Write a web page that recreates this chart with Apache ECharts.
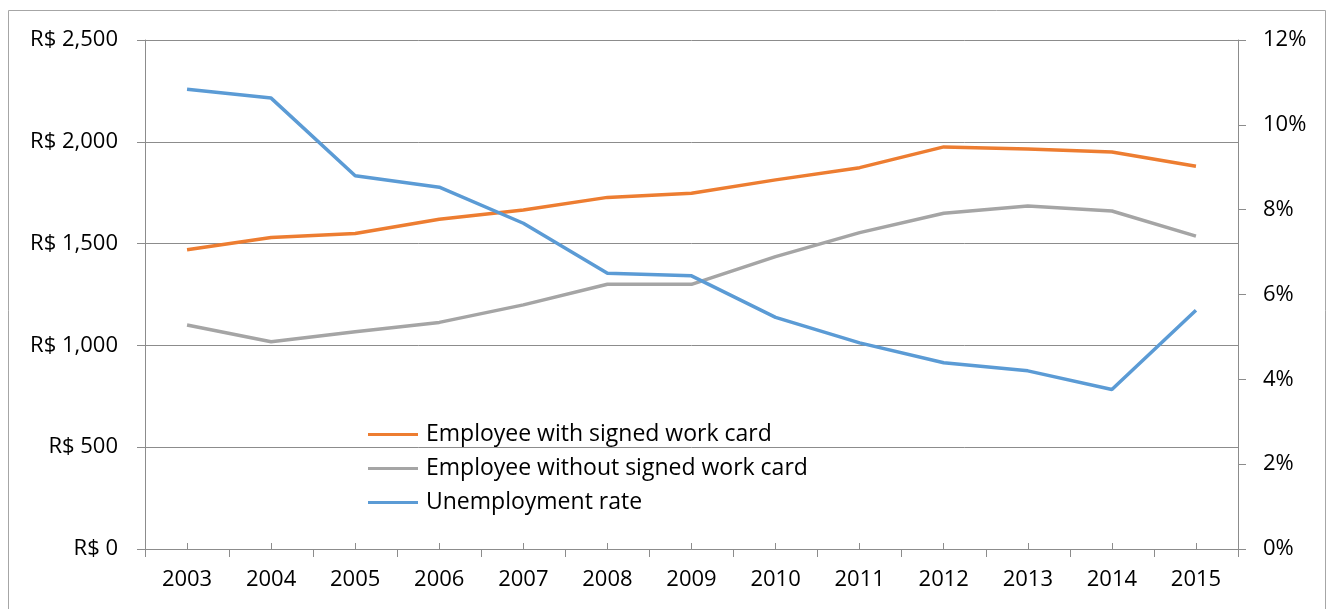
<!DOCTYPE html>
<html>
<head>
<meta charset="utf-8">
<script src="https://cdn.jsdelivr.net/npm/echarts@6/dist/echarts.min.js"></script>
<style>html,body{margin:0;padding:0;background:#fff}#c{width:1334px;height:609px}</style>
</head>
<body>
<div id="c"></div>
<script>
const years = ['2003','2004','2005','2006','2007','2008','2009','2010','2011','2012','2013','2014','2015'];
const withCard = [1470, 1530, 1550, 1620, 1665, 1727, 1747, 1813, 1873, 1975, 1965, 1950, 1880];
const withoutCard = [1100, 1018, 1067, 1113, 1199, 1300, 1300, 1436, 1554, 1649, 1685, 1660, 1537];
const unemployment = [10.84, 10.63, 8.80, 8.53, 7.68, 6.50, 6.44, 5.46, 4.86, 4.39, 4.20, 3.76, 5.63];
const seriesNames = ['Employee with signed work card', 'Employee without signed work card', 'Unemployment rate'];

const FONT = 'Open Sans';
const FS = 22;
const chart = echarts.init(document.getElementById('c'), null, {renderer: 'canvas'});
const axisGray = '#8c8c8c';
chart.setOption({
  animation: false,
  backgroundColor: '#fff',
  textStyle: {fontFamily: FONT},
  graphic: [{
    type: 'rect', shape: {x: 8.5, y: 10.5, width: 1317, height: 620},
    style: {fill: 'none', stroke: '#a6a6a6', lineWidth: 1}, silent: true
  }],
  grid: {left: 145, right: 96, top: 40, bottom: 60, containLabel: false},
  legend: {
    orient: 'vertical', left: 363, top: 418, itemWidth: 50, itemHeight: 14, itemGap: 11,
    icon: 'path://M0,6 L50,6 L50,9 L0,9 Z',
    textStyle: {fontFamily: FONT, fontSize: 23, color: '#000', padding: [0,0,0,3]},
    data: seriesNames
  },
  xAxis: [{
    type: 'category', data: years, boundaryGap: true,
    axisLine: {lineStyle: {color: axisGray, width: 1}},
    axisTick: {show: true, inside: false, length: 8, alignWithLabel: false, lineStyle: {color: axisGray}},
    axisLabel: {fontFamily: FONT, fontSize: FS, color: '#000', margin: 20}
  }, {
    type: 'category', data: years, boundaryGap: true, position: 'bottom',
    axisLine: {show: false},
    axisTick: {show: true, inside: true, length: 6, alignWithLabel: true, lineStyle: {color: axisGray}},
    axisLabel: {show: false}
  }],
  yAxis: [{
    type: 'value', min: 0, max: 2500, interval: 500,
    axisLine: {show: true, lineStyle: {color: axisGray}},
    axisTick: {show: true, length: 8, lineStyle: {color: axisGray}},
    splitLine: {lineStyle: {color: axisGray, width: 1}},
    axisLabel: {fontFamily: FONT, fontSize: FS, color: '#000', margin: 27,
      formatter: v => 'R$ ' + v.toLocaleString('en-US')}
  }, {
    type: 'value', min: 0, max: 12, interval: 2, position: 'right',
    axisLine: {show: true, lineStyle: {color: axisGray}},
    axisTick: {show: true, length: 8, lineStyle: {color: axisGray}},
    splitLine: {show: false},
    axisLabel: {fontFamily: FONT, fontSize: FS, color: '#000', margin: 25, formatter: '{value}%'}
  }],
  series: [
    {name: seriesNames[0], type: 'line', data: withCard, yAxisIndex: 0, symbol: 'none',
     lineStyle: {color: '#ED7D31', width: 3.5}, itemStyle: {color: '#ED7D31'}},
    {name: seriesNames[1], type: 'line', data: withoutCard, yAxisIndex: 0, symbol: 'none',
     lineStyle: {color: '#A5A5A5', width: 3.5}, itemStyle: {color: '#A5A5A5'}},
    {name: seriesNames[2], type: 'line', data: unemployment, yAxisIndex: 1, symbol: 'none',
     lineStyle: {color: '#5B9BD5', width: 3.5}, itemStyle: {color: '#5B9BD5'}}
  ]
});
</script>
</body>
</html>
